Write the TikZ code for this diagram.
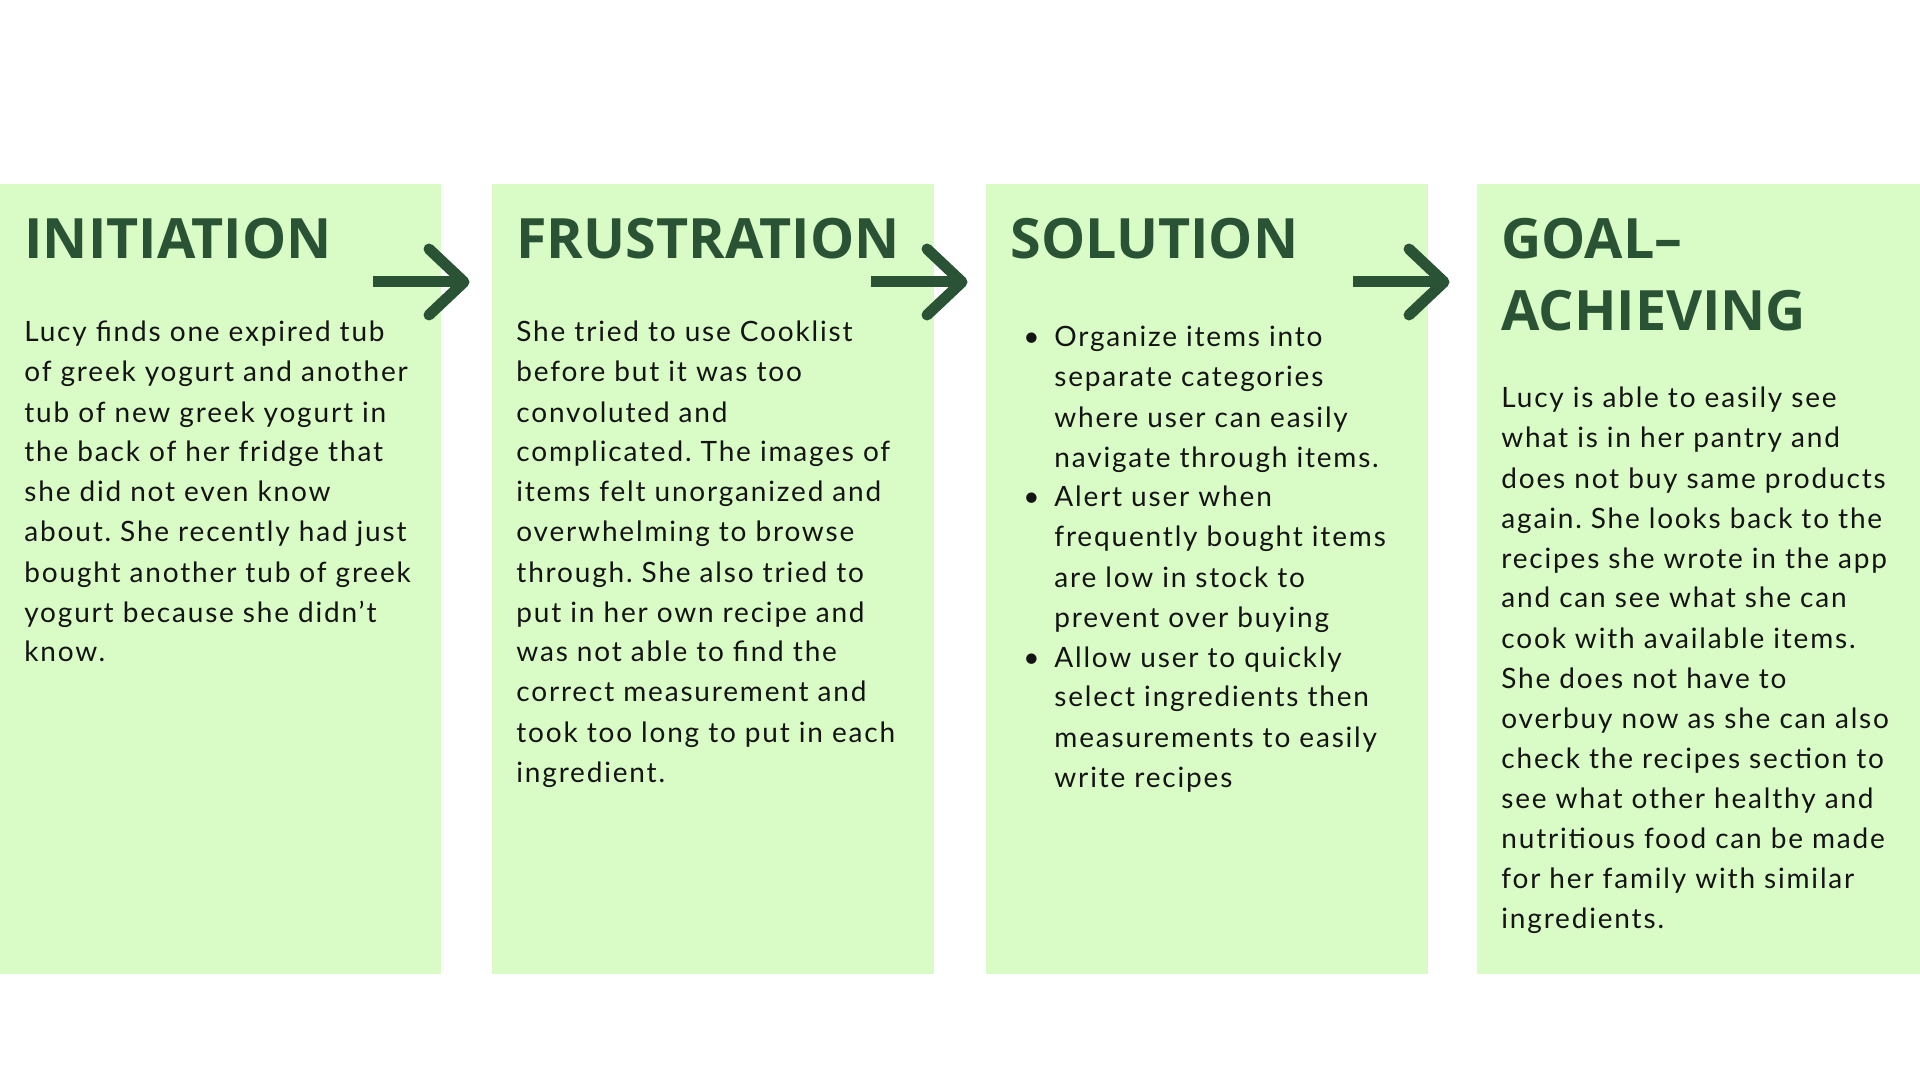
\documentclass[tikz,border=0pt]{standalone}
\usepackage{fontspec}
\setmainfont{Lato}[LetterSpace=6.5]
\newfontfamily\headfont{Open Sans}
\definecolor{boxfill}{HTML}{D9FCC6}
\definecolor{dkgreen}{HTML}{2A5234}
\definecolor{bodytext}{HTML}{141414}
\frenchspacing
\newcommand\blk[1]{\vtop{\baselineskip=20pt\lineskiplimit=-30pt\lineskip=0pt #1}}
\newcommand\bl[1]{\hbox{\makebox[9pt][c]{•}\hspace{7pt}#1}}
\newcommand\cl[1]{\hbox{\hspace{16pt}#1}}
\tikzset{
  panel/.style={fill=boxfill, draw=none},
  heading/.style={anchor=base west, inner sep=0pt, text=dkgreen, font=\headfont\bfseries\fontsize{27.8pt}{36pt}\selectfont},
  bodytxt/.style={anchor=base west, inner sep=0pt, text=bodytext, font=\fontsize{14pt}{20pt}\selectfont},
  flowarrow/.style={draw=dkgreen, line width=5.5pt},
}
\begin{document}
\begin{tikzpicture}[x=0.5pt,y=-0.5pt]
\useasboundingbox (0,0) rectangle (1920,1080);
\fill[white] (0,0) rectangle (1920,1080);
% panels
\path[panel] (0,184) rectangle (441,974);
\path[panel] (492,184) rectangle (934,974);
\path[panel] (986,184) rectangle (1428,974);
\path[panel] (1477,184) rectangle (1920,974);
% headings
\node[heading] (h1) at (24,259) {INITIATION};
\node[heading] (h2) at (516,259) {FRUSTRATION};
\node[heading] (h3) at (1010,259) {SOLUTION};
\node[heading] (h4) at (1501,259) {\blk{\baselineskip=36pt\hbox{GOAL–}\hbox{ACHIEVING}}};
% bodies
\node[bodytxt] (b1) at (24,342) {\blk{%
\hbox{Lucy finds one expired tub}
\hbox{of greek yogurt and another}
\hbox{tub of new greek yogurt in}
\hbox{the back of her fridge that}
\hbox{she did not even know}
\hbox{about. She recently had just}
\hbox{bought another tub of greek}
\hbox{yogurt because she didn’t}
\hbox{know.}}};
\node[bodytxt] (b2) at (516,342) {\blk{%
\hbox{She tried to use Cooklist}
\hbox{before but it was too}
\hbox{convoluted and}
\hbox{complicated. The images of}
\hbox{items felt unorganized and}
\hbox{overwhelming to browse}
\hbox{through. She also tried to}
\hbox{put in her own recipe and}
\hbox{was not able to find the}
\hbox{correct measurement and}
\hbox{took too long to put in each}
\hbox{ingredient.}}};
\node[bodytxt] (b3) at (1022,347) {\blk{%
\bl{Organize items into}
\cl{separate categories}
\cl{where user can easily}
\cl{navigate through items.}
\bl{Alert user when}
\cl{frequently bought items}
\cl{are low in stock to}
\cl{prevent over buying}
\bl{Allow user to quickly}
\cl{select ingredients then}
\cl{measurements to easily}
\cl{write recipes}}};
\node[bodytxt] (b4) at (1501,408) {\blk{%
\hbox{Lucy is able to easily see}
\hbox{what is in her pantry and}
\hbox{does not buy same products}
\hbox{again. She looks back to the}
\hbox{recipes she wrote in the app}
\hbox{and can see what she can}
\hbox{cook with available items.}
\hbox{She does not have to}
\hbox{overbuy now as she can also}
\hbox{check the recipes section to}
\hbox{see what other healthy and}
\hbox{nutritious food can be made}
\hbox{for her family with similar}
\hbox{ingredients.}}};
% arrows
\foreach \i/\t in {1/464, 2/962, 3/1444}{
  \coordinate (s\i) at (\t-91,282);
  \coordinate (e\i) at (\t,282);
  \coordinate (u\i) at (\t-35,249);
  \coordinate (d\i) at (\t-35,315);
  \draw[flowarrow] (s\i) -- (e\i);
  \draw[flowarrow, line cap=round, line join=round] (u\i) -- (e\i) -- (d\i);
}
\end{tikzpicture}
\end{document}
